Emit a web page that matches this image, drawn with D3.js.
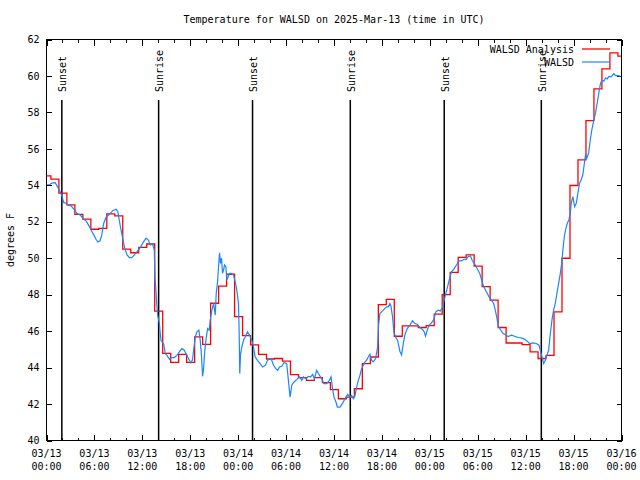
<!DOCTYPE html>
<html><head><meta charset="utf-8">
<script src="https://cdn.jsdelivr.net/npm/d3@7"></script>
<style>
body{margin:0;background:#fff}
svg{display:block}
text{font-family:"DejaVu Sans Mono","Liberation Mono",monospace;font-size:10px;fill:#000}
</style>
</head><body>
<svg id="chart" width="640" height="480"></svg>
<script>
// ---------------- data ----------------
const titleText = "Temperature for WALSD on 2025-Mar-13 (time in UTC)";
const yLabelText = "degrees F";
const startTime = "2025-03-13T00:00:00Z";
const endTime = "2025-03-16T00:00:00Z";
const yTicks = [40, 42, 44, 46, 48, 50, 52, 54, 56, 58, 60, 62];
const seriesNames = ["WALSD Analysis", "WALSD"];

// hourly analysis values; each step begins at (index + analysisOffsetHours) hours after start
const analysisOffsetHours = -0.45;
const analysisTemps = [
  54.52, 54.34, 53.57, 52.93, 52.41, 52.14, 51.59, 51.64, 52.43, 52.32,
  50.50, 50.30, 50.60, 50.78, 47.10, 44.78, 44.29, 44.73, 44.29, 45.69,
  45.27, 47.53, 48.47, 49.12, 46.80, 45.75, 45.25, 44.72, 44.47, 44.50,
  44.35, 43.61, 43.45, 43.30, 43.45, 43.17, 42.79, 42.29, 42.38, 42.84,
  44.22, 44.58, 47.46, 47.74, 45.72, 46.29, 46.29, 46.20, 46.30, 46.93,
  48.00, 49.22, 50.05, 50.18, 49.57, 48.44, 47.70, 46.20, 45.35, 45.35,
  45.26, 44.86, 44.50, 44.67, 47.06, 50.00, 53.99, 55.40, 57.55, 59.29,
  60.39, 61.27, 61.09
];

// observations: hours after start, temperature
const obsHours = [
  0.0, 0.4, 0.66, 1.08, 1.33, 1.63, 1.92, 2.17, 2.46, 2.75,
  3.08, 3.5, 3.79, 4.2, 4.67, 4.96, 5.25, 5.58, 5.92, 6.2,
  6.42, 6.7, 6.92, 7.17, 7.46, 7.88, 8.29, 8.71, 8.92, 9.25,
  9.54, 9.75, 10.08, 10.38, 10.67, 11.0, 11.33, 11.75, 12.17, 12.46,
  12.75, 13.0, 13.29, 13.5, 13.58, 13.71, 13.8, 13.92, 14.13, 14.33,
  14.67, 14.88, 15.08, 15.42, 15.71, 16.0, 16.33, 16.67, 16.96, 17.25,
  17.5, 17.79, 18.08, 18.29, 18.42, 18.63, 18.83, 19.08, 19.25, 19.42,
  19.54, 19.67, 19.79, 19.96, 20.17, 20.38, 20.5, 20.71, 20.92, 21.13,
  21.25, 21.42, 21.54, 21.67, 21.79, 21.92, 22.04, 22.17, 22.29, 22.46,
  22.58, 22.75, 22.92, 23.13, 23.42, 23.63, 23.83, 24.04, 24.12, 24.2,
  24.3, 24.46, 24.67, 24.88, 25.17, 25.42, 25.71, 25.92, 26.13, 26.42,
  26.75, 27.08, 27.42, 27.67, 28.0, 28.21, 28.42, 28.71, 28.96, 29.17,
  29.46, 29.75, 30.08, 30.29, 30.5, 30.71, 31.0, 31.33, 31.67, 31.96,
  32.17, 32.5, 32.79, 33.08, 33.33, 33.54, 33.83, 34.13, 34.46, 34.75,
  35.08, 35.42, 35.63, 35.79, 36.0, 36.25, 36.42, 36.75, 37.08, 37.38,
  37.71, 38.0, 38.21, 38.42, 38.63, 38.83, 39.04, 39.25, 39.46, 39.67,
  39.88, 40.08, 40.29, 40.5, 40.71, 40.92, 41.21, 41.46, 41.58, 41.75,
  41.96, 42.17, 42.38, 42.58, 42.79, 43.0, 43.13, 43.33, 43.5, 43.71,
  43.96, 44.25, 44.46, 44.67, 44.88, 45.17, 45.5, 45.83, 46.13, 46.42,
  46.75, 47.08, 47.29, 47.46, 47.67, 47.92, 48.21, 48.5, 48.75, 49.04,
  49.33, 49.58, 49.88, 50.17, 50.42, 50.71, 51.0, 51.33, 51.67, 51.96,
  52.29, 52.58, 52.79, 53.08, 53.33, 53.63, 53.92, 54.25, 54.46, 54.75,
  55.08, 55.42, 55.71, 56.0, 56.33, 56.58, 56.83, 57.17, 57.5, 57.79,
  58.21, 58.63, 59.04, 59.46, 59.88, 60.29, 60.5, 60.91, 61.34, 61.66,
  61.88, 62.09, 62.25, 62.46, 62.66, 62.88, 63.09, 63.29, 63.5, 63.71,
  63.91, 64.13, 64.34, 64.54, 64.66, 64.84, 65.0, 65.21, 65.41, 65.59,
  65.71, 65.91, 66.13, 66.34, 66.54, 66.75, 66.96, 67.16, 67.38, 67.5,
  67.66, 67.88, 68.09, 68.29, 68.5, 68.75, 68.96, 69.16, 69.38, 69.59,
  69.79, 70.0, 70.21, 70.41, 70.71, 71.04, 71.25, 71.54, 71.88
];
const obsTemps = [
  54.03, 54.03, 54.12, 54.15, 53.97, 53.72, 53.42, 53.05, 53.02, 52.89,
  52.87, 52.65, 52.47, 52.38, 52.14, 52.05, 51.83, 51.55, 51.28, 51.04,
  50.89, 50.96, 51.28, 51.92, 52.25, 52.41, 52.61, 52.69, 52.56, 51.74,
  51.10, 50.64, 50.18, 50.03, 50.03, 50.18, 50.36, 50.60, 50.91, 51.10,
  51.00, 50.73, 50.78, 50.45, 48.98, 48.16, 47.52, 46.88, 46.42, 45.50,
  45.30, 44.77, 44.67, 44.45, 44.55, 44.55, 44.67, 44.89, 45.04, 44.95,
  44.73, 44.49, 44.25, 44.44, 44.95, 45.68, 45.96, 46.05, 45.50, 44.58,
  43.52, 43.94, 44.77, 45.50, 46.14, 46.05, 46.60, 47.15, 47.52, 46.88,
  48.07, 48.71, 49.53, 50.30, 49.72, 50.00, 49.17, 49.35, 49.63, 49.53,
  48.80, 48.98, 49.17, 49.17, 49.08, 48.71, 48.25, 47.52, 46.00, 43.67,
  44.77, 45.13, 45.50, 45.68, 45.96, 45.78, 45.50, 45.13, 44.58, 44.40,
  44.22, 44.03, 44.13, 44.40, 44.50, 44.40, 44.13, 43.94, 43.85, 44.03,
  44.07, 44.28, 44.22, 43.30, 42.38, 43.03, 43.21, 43.34, 43.49, 43.30,
  43.49, 43.39, 43.52, 43.49, 43.63, 43.39, 43.85, 43.61, 43.39, 43.12,
  43.12, 43.30, 43.49, 42.93, 42.38, 42.11, 41.83, 41.83, 42.05, 42.29,
  42.53, 42.38, 42.47, 42.29, 42.47, 42.93, 43.30, 43.58, 43.94, 44.13,
  44.31, 44.40, 44.58, 44.73, 44.40, 44.31, 44.50, 45.13, 46.33, 46.97,
  47.06, 47.15, 47.25, 47.33, 47.33, 47.52, 47.37, 46.78, 45.96, 45.68,
  45.50, 44.90, 44.70, 45.30, 45.80, 46.14, 46.33, 46.57, 46.42, 46.38,
  46.20, 46.09, 45.96, 45.72, 46.05, 46.33, 46.45, 46.64, 47.06, 47.15,
  47.11, 47.33, 47.85, 48.35, 48.80, 49.25, 49.39, 49.63, 49.86, 49.86,
  49.94, 49.94, 50.08, 50.12, 49.86, 49.68, 49.44, 49.17, 48.84, 48.44,
  48.16, 47.88, 47.70, 47.52, 46.88, 46.27, 46.09, 45.87, 45.80, 45.70,
  45.78, 45.72, 45.65, 45.63, 45.55, 45.41, 45.30, 45.35, 45.32, 45.23,
  44.86, 44.50, 44.22, 44.40, 44.67, 44.95, 45.87, 46.60, 47.15, 47.52,
  48.07, 48.62, 49.17, 49.81, 50.45, 51.18, 51.55, 51.92, 52.10, 52.47,
  53.02, 53.38, 52.83, 53.02, 53.57, 54.12, 54.30, 54.58, 55.31, 55.68,
  55.49, 55.77, 56.50, 57.05, 57.51, 57.97, 58.52, 59.07, 59.62, 59.76,
  59.71, 59.89, 59.84, 59.98, 59.95, 60.13, 60.02, 60.02, 59.98
];

const sunEventHours = [1.92, 14.04, 25.8, 38.04, 49.8, 61.96];
const sunEventLabels = ["Sunset", "Sunrise", "Sunset", "Sunrise", "Sunset", "Sunrise"];

// ---------------- drawing ----------------
(function () {
const HOUR = 3600 * 1000;
const t0 = new Date(startTime);
const t1 = new Date(endTime);
const atHour = h => new Date(t0.getTime() + h * HOUR);

const pL = 46.5, pR = 621.5, pT = 39.5, pB = 440.5;
const x = d3.scaleUtc().domain([t0, t1]).range([pL, pR]);
const y = d3.scaleLinear().domain([40, 62]).range([pB, pT]);

const svg = d3.select("#chart");
svg.append("rect").attr("width", 640).attr("height", 480).attr("fill", "#fff");

svg.append("defs").append("clipPath").attr("id", "plotclip")
  .append("rect").attr("x", pL).attr("y", pT - 1)
  .attr("width", pR - pL).attr("height", pB - pT + 2);

const majorTicks = d3.utcHour.every(6).range(t0, new Date(t1.getTime() + 1));
const minorTicks = d3.utcHour.every(2).range(t0, new Date(t1.getTime() + 1))
  .filter(d => d.getUTCHours() % 6 !== 0);

function styleAxis(g) {
  g.select(".domain").remove();
  g.selectAll("line").attr("stroke", "#000").attr("shape-rendering", "crispEdges");
  g.attr("font-family", null).attr("font-size", null);
}

svg.append("g").attr("transform", `translate(0,${pB})`)
  .call(d3.axisBottom(x).tickValues(majorTicks).tickSize(-6).tickSizeOuter(0).tickFormat(""))
  .call(styleAxis);
svg.append("g").attr("transform", `translate(0,${pB})`)
  .call(d3.axisBottom(x).tickValues(minorTicks).tickSize(-3).tickSizeOuter(0).tickFormat(""))
  .call(styleAxis);
svg.append("g").attr("transform", `translate(0,${pT})`)
  .call(d3.axisTop(x).tickValues(majorTicks).tickSize(-6).tickSizeOuter(0).tickFormat(""))
  .call(styleAxis);
svg.append("g").attr("transform", `translate(0,${pT})`)
  .call(d3.axisTop(x).tickValues(minorTicks).tickSize(-3).tickSizeOuter(0).tickFormat(""))
  .call(styleAxis);

const fmtDate = d3.utcFormat("%m/%d");
const fmtTime = d3.utcFormat("%H:%M");
const xl = svg.append("g");
majorTicks.forEach(d => {
  const t = xl.append("text").attr("text-anchor", "middle");
  t.append("tspan").attr("x", x(d)).attr("y", 457).text(fmtDate(d));
  t.append("tspan").attr("x", x(d)).attr("y", 470).text(fmtTime(d));
});

svg.append("g").attr("transform", `translate(${pL},0)`)
  .call(d3.axisLeft(y).tickValues(yTicks).tickSize(-5).tickSizeOuter(0).tickPadding(7).tickFormat(d3.format("d")))
  .call(styleAxis);
svg.append("g").attr("transform", `translate(${pR},0)`)
  .call(d3.axisRight(y).tickValues(yTicks).tickSize(-5).tickSizeOuter(0).tickFormat(""))
  .call(styleAxis);

svg.append("rect").attr("x", pL).attr("y", pT)
  .attr("width", pR - pL).attr("height", pB - pT)
  .attr("fill", "none").attr("stroke", "#000").attr("stroke-width", 1)
  .attr("shape-rendering", "crispEdges");

const sun = svg.append("g");
sunEventHours.forEach((h, i) => {
  const sx = x(atHour(h));
  sun.append("line").attr("x1", sx).attr("x2", sx).attr("y1", 100).attr("y2", pB)
    .attr("stroke", "#000").attr("stroke-width", 1.5);
  sun.append("text").attr("text-anchor", "start")
    .attr("transform", `translate(${sx + 4.5},92) rotate(-90)`)
    .text(sunEventLabels[i]);
});

const analysisData = analysisTemps.map((v, i) => ({ t: atHour(i + analysisOffsetHours), v }));
analysisData.push({ t: t1, v: analysisTemps[analysisTemps.length - 1] });
const stepLine = d3.line().x(d => x(d.t)).y(d => y(d.v)).curve(d3.curveStepAfter);
svg.append("path").datum(analysisData)
  .attr("clip-path", "url(#plotclip)")
  .attr("d", stepLine).attr("fill", "none").attr("stroke", "#ff0000").attr("stroke-width", 1.3);

const obsData = obsHours.map((h, i) => ({ t: atHour(h), v: obsTemps[i] }));
const obsLine = d3.line().x(d => x(d.t)).y(d => y(d.v));
svg.append("path").datum(obsData)
  .attr("clip-path", "url(#plotclip)")
  .attr("d", obsLine).attr("fill", "none").attr("stroke", "#1a86ff").attr("stroke-width", 1.2);

const legendColors = ["#ff0000", "#1a86ff"];
seriesNames.forEach((name, i) => {
  const ly = 49 + i * 13;
  svg.append("text").attr("x", 574).attr("y", ly + 3.5).attr("text-anchor", "end").text(name);
  svg.append("line").attr("x1", 582).attr("x2", 610).attr("y1", ly).attr("y2", ly)
    .attr("stroke", legendColors[i]).attr("stroke-width", i === 0 ? 1.3 : 1.2);
});

svg.append("text").attr("x", (pL + pR) / 2).attr("y", 23).attr("text-anchor", "middle").text(titleText);
svg.append("text").attr("transform", `translate(14,${(pT + pB) / 2}) rotate(-90)`)
  .attr("text-anchor", "middle").text(yLabelText);
})();
</script>
</body></html>
